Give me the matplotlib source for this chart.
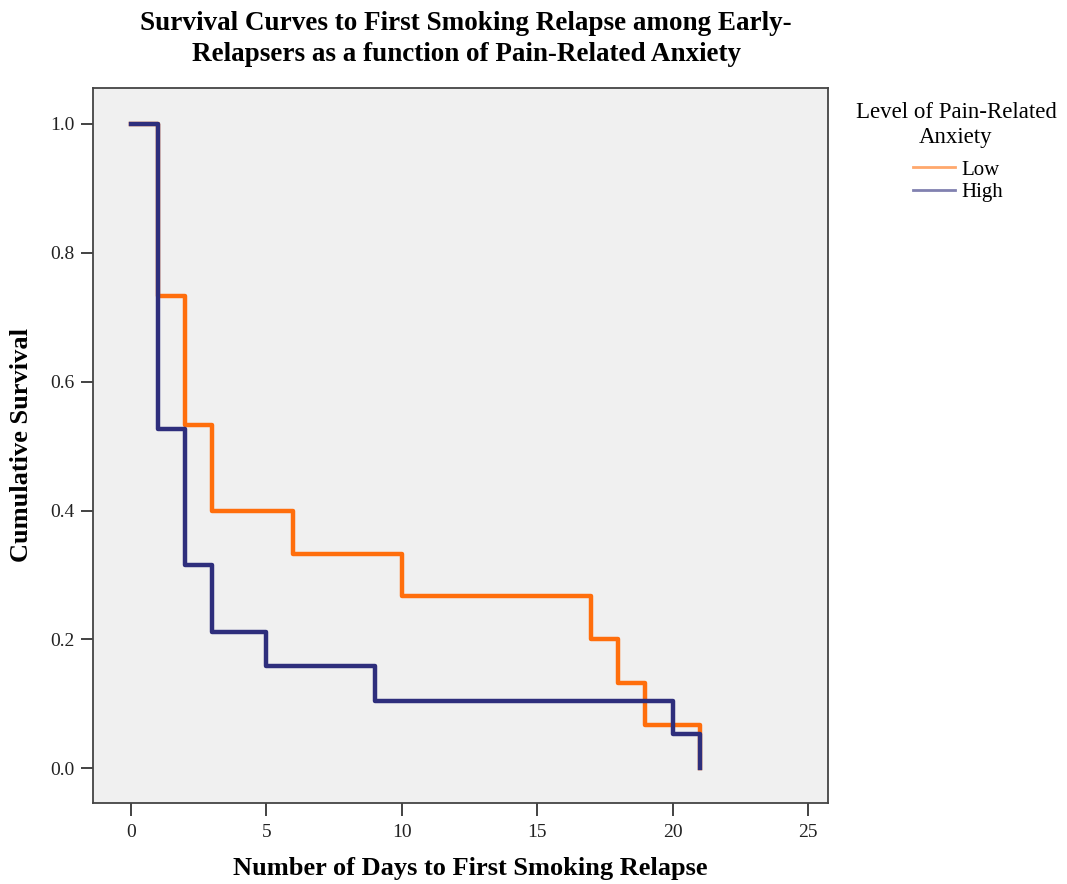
import matplotlib.pyplot as plt

# Kaplan-Meier estimates
low_days = [0, 1, 2, 3, 6, 10, 17, 18, 19, 21]
low_surv = [1.0, 0.733, 0.533, 0.400, 0.333, 0.267, 0.200, 0.133, 0.067, 0.0]

high_days = [0, 1, 2, 3, 5, 9, 20, 21]
high_surv = [1.0, 0.526, 0.316, 0.211, 0.158, 0.105, 0.053, 0.0]

x_ticks = [0, 5, 10, 15, 20, 25]
y_ticks = [0.0, 0.2, 0.4, 0.6, 0.8, 1.0]

LOW_COLOR = "#FF6E0C"
HIGH_COLOR = "#2E2E7C"

plt.rcParams["font.family"] = ["Liberation Serif", "DejaVu Serif"]

W, H = 1067, 884
fig = plt.figure(figsize=(W / 100, H / 100), dpi=100)
ax = fig.add_axes([0.0872, 0.0916, 0.689, 0.809])
ax.set_facecolor("#F0F0F0")

ax.step(low_days, low_surv, where="post", color=LOW_COLOR, lw=3.2, label="Low", zorder=2)
ax.step(high_days, high_surv, where="post", color=HIGH_COLOR, lw=3.2, label="High", zorder=3)

ax.set_xlim(-1.4, 25.75)
ax.set_ylim(-0.054, 1.056)
ax.set_xticks(x_ticks)
ax.set_yticks(y_ticks)
ax.set_yticklabels([f"{v:.1f}" for v in y_ticks])
ax.tick_params(direction="out", length=9, width=1.2, labelsize=14, colors="#222222")
ax.tick_params(axis="x", pad=6)
ax.tick_params(axis="y", pad=4)

for s in ax.spines.values():
    s.set_color("#444444")
    s.set_linewidth(1.3)

# axis titles placed in figure pixels so they are not clipped
fig.text(470 / W, 1 - 868 / H, "Number of Days to First Smoking Relapse",
         fontsize=19, fontweight="bold", ha="center", va="center")
fig.text(22 / W, 1 - 445 / H, "Cumulative Survival", rotation=90,
         fontsize=19, fontweight="bold", ha="center", va="center")

fig.text(466 / W, 1 - 39 / H,
         "Survival Curves to First Smoking Relapse among Early-\n"
         "Relapsers as a function of Pain-Related Anxiety",
         fontsize=19.5, fontweight="bold", ha="center", va="center",
         linespacing=1.3)

fig.text(956 / W, 1 - 125 / H, "Level of Pain-Related\nAnxiety",
         fontsize=16.5, ha="center", va="center", linespacing=1.2)

leg = ax.legend(loc="upper left", bbox_to_anchor=(913 / W, 1 - 160 / H),
                bbox_transform=fig.transFigure, frameon=False, fontsize=15,
                handlelength=2.0, handletextpad=0.3, labelspacing=0.15,
                borderpad=0, borderaxespad=0)
for line in leg.get_lines():
    line.set_linewidth(2)
    line.set_alpha(0.6)

fig.savefig("out.png", dpi=100)
